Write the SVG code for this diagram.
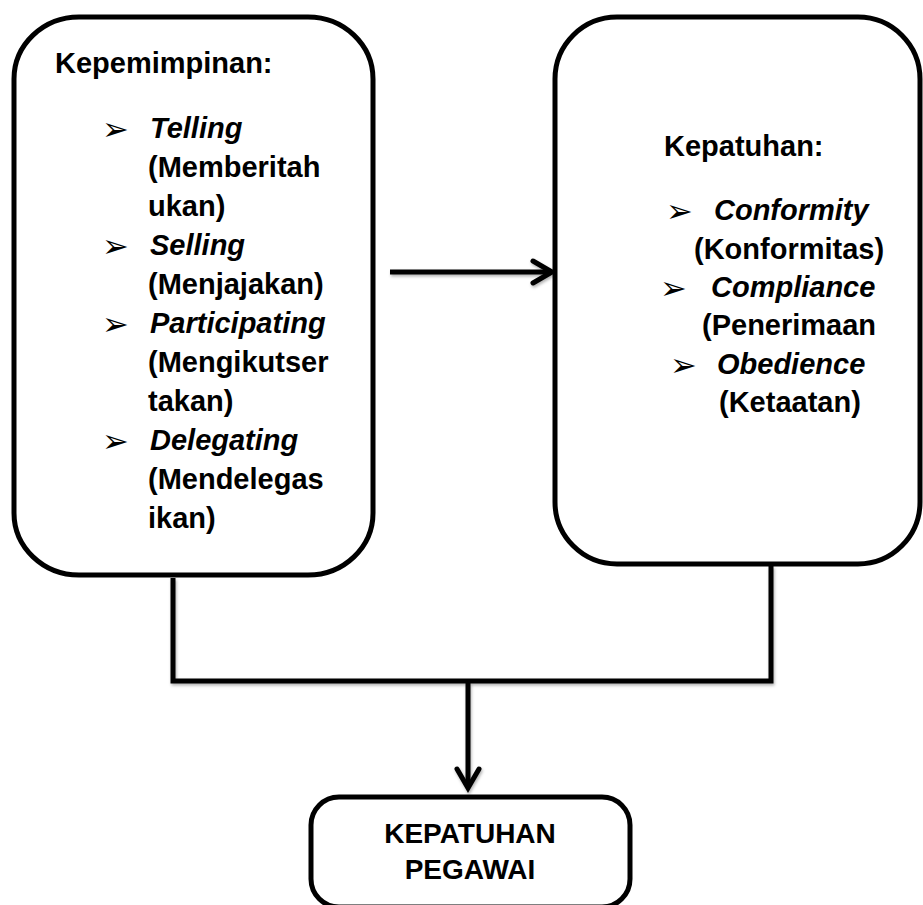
<svg xmlns="http://www.w3.org/2000/svg" width="923" height="905" viewBox="0 0 923 905">
<style>
.box{fill:#fff;stroke:#000;stroke-width:5}
.t{font-family:"Liberation Sans",Arial,sans-serif;font-weight:bold;font-size:29px;fill:#000}
.i{font-style:italic}
.b{font-family:"DejaVu Sans",sans-serif;font-size:32px;fill:#000}
.big{font-family:"Liberation Sans",Arial,sans-serif;font-weight:bold;font-size:28px;fill:#000;text-anchor:middle}
.con{fill:none;stroke:#000;stroke-width:5}
</style>
<defs>
<filter id="sh" x="-10%" y="-10%" width="120%" height="120%">
<feDropShadow dx="1" dy="2" stdDeviation="1.5" flood-color="#000" flood-opacity="0.3"/>
</filter>
<marker id="ah" markerUnits="userSpaceOnUse" viewBox="-24 -14 28 28" refX="0" refY="0" markerWidth="28" markerHeight="28" orient="auto" overflow="visible">
<path d="M-19,-11 L0,0 L-19,11" fill="none" stroke="#000" stroke-width="5" stroke-linejoin="miter" stroke-linecap="round"/>
</marker>
</defs>
<g id="connectors" filter="url(#sh)">
<path class="con" d="M390,272 H552" marker-end="url(#ah)"/>
<path class="con" d="M173,578 V681 H771 V566"/>
<path class="con" d="M468,681 V788" marker-end="url(#ah)"/>
</g>
<g id="kepemimpinan">
<rect class="box" x="14" y="17" width="359" height="558" rx="65" ry="62"/>
<text class="t" x="55" y="73">Kepemimpinan:</text>
<text class="b" x="102" y="140">➢</text>
<text class="t i" x="150" y="138">Telling</text>
<text class="t" x="148" y="177">(Memberitah</text>
<text class="t" x="148" y="216">ukan)</text>
<text class="b" x="102" y="257">➢</text>
<text class="t i" x="150" y="255">Selling</text>
<text class="t" x="148" y="294">(Menjajakan)</text>
<text class="b" x="102" y="335">➢</text>
<text class="t i" x="150" y="333">Participating</text>
<text class="t" x="148" y="372">(Mengikutser</text>
<text class="t" x="148" y="411">takan)</text>
<text class="b" x="102" y="452">➢</text>
<text class="t i" x="150" y="450">Delegating</text>
<text class="t" x="148" y="489">(Mendelegas</text>
<text class="t" x="148" y="528">ikan)</text>
</g>
<g id="kepatuhan">
<rect class="box" x="555" y="17" width="365" height="547" rx="62" ry="62"/>
<text class="t" x="664" y="156">Kepatuhan:</text>
<text class="b" x="666" y="222">➢</text>
<text class="t i" x="714" y="220">Conformity</text>
<text class="t" x="694" y="259">(Konformitas)</text>
<text class="b" x="660" y="299">➢</text>
<text class="t i" x="711" y="297">Compliance</text>
<text class="t" x="702" y="335">(Penerimaan</text>
<text class="b" x="670" y="376">➢</text>
<text class="t i" x="717" y="374">Obedience</text>
<text class="t" x="719" y="412">(Ketaatan)</text>
</g>
<g id="kepatuhan-pegawai">
<rect class="box" x="311" y="797" width="319" height="110" rx="28" ry="28"/>
<text class="big" x="470" y="843">KEPATUHAN</text>
<text class="big" x="470" y="879">PEGAWAI</text>
</g>
</svg>
